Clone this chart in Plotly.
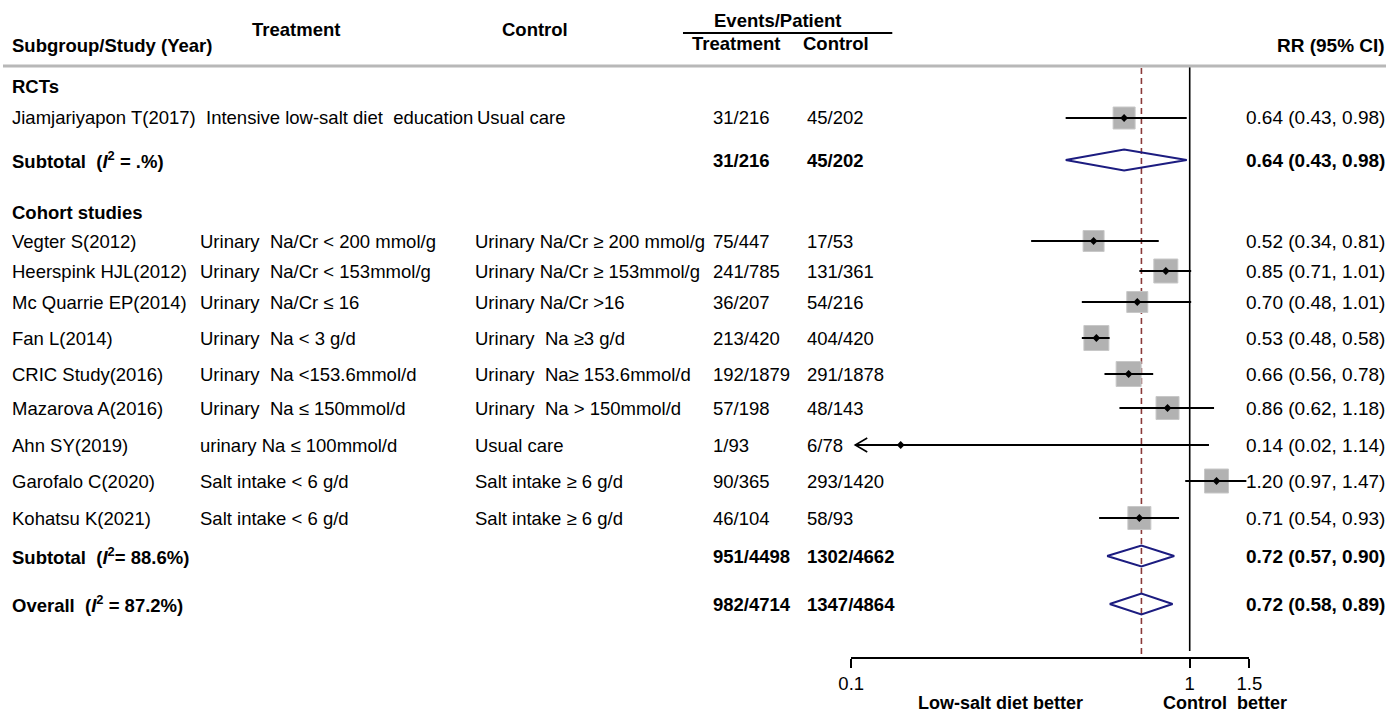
import plotly.graph_objects as go
import math

# ---- data -------------------------------------------------------------
studies = ["Jiamjariyapon T(2017)", "Vegter S(2012)", "Heerspink HJL(2012)",
           "Mc Quarrie EP(2014)", "Fan L(2014)", "CRIC Study(2016)",
           "Mazarova A(2016)", "Ahn SY(2019)", "Garofalo C(2020)", "Kohatsu K(2021)"]
treat_desc = ["Intensive low-salt diet  education", "Urinary  Na/Cr < 200 mmol/g",
              "Urinary  Na/Cr < 153mmol/g", "Urinary  Na/Cr \u2264 16", "Urinary  Na < 3 g/d",
              "Urinary  Na <153.6mmol/d", "Urinary  Na \u2264 150mmol/d",
              "urinary Na \u2264 100mmol/d", "Salt intake < 6 g/d", "Salt intake < 6 g/d"]
ctrl_desc = ["Usual care", "Urinary Na/Cr \u2265 200 mmol/g", "Urinary Na/Cr \u2265 153mmol/g",
             "Urinary Na/Cr >16", "Urinary  Na \u22653 g/d", "Urinary  Na\u2265 153.6mmol/d",
             "Urinary  Na > 150mmol/d", "Usual care", "Salt intake \u2265 6 g/d",
             "Salt intake \u2265 6 g/d"]
treat_events = ["31/216", "75/447", "241/785", "36/207", "213/420", "192/1879",
                "57/198", "1/93", "90/365", "46/104"]
ctrl_events = ["45/202", "17/53", "131/361", "54/216", "404/420", "291/1878",
               "48/143", "6/78", "293/1420", "58/93"]
rr = [0.64, 0.52, 0.85, 0.70, 0.53, 0.66, 0.86, 0.14, 1.20, 0.71]
rr_lo = [0.43, 0.34, 0.71, 0.48, 0.48, 0.56, 0.62, 0.02, 0.97, 0.54]
rr_hi = [0.98, 0.81, 1.01, 1.01, 0.58, 0.78, 1.18, 1.14, 1.47, 0.93]

pooled_labels = ["Subtotal  (<i>I</i><sup>2</sup> = .%)", "Subtotal  (<i>I</i><sup>2</sup>= 88.6%)",
                 "Overall  (<i>I</i><sup>2</sup> = 87.2%)"]
pooled_treat = ["31/216", "951/4498", "982/4714"]
pooled_ctrl = ["45/202", "1302/4662", "1347/4864"]
pooled_rr = [0.64, 0.72, 0.72]
pooled_lo = [0.43, 0.57, 0.58]
pooled_hi = [0.98, 0.90, 0.89]

tick_vals = [0.1, 1, 1.5]
tick_text = ["0.1", "1", "1.5"]

# ---- layout (pixel rows / columns) -------------------------------------
W, H = 1386, 714
# horizontal placement of the drawing area on the page
X_OFF, X_SPAN = 14, 1358
study_rows = [118, 241, 271, 302, 338, 374, 408, 445, 481, 518]
pooled_rows = [160, 556, 604]
study_box = [22, 21, 24, 21, 25, 25, 23, 0, 24, 23]
AX_LEFT, AX_RIGHT, AX_Y, TOP_Y = 851, 1248.5, 657, 66
FONT = "Liberation Sans, Arial, sans-serif"
FS = 18.5
FS_RR = 19

col_study, col_treat, col_ctrl, col_te, col_ce, col_rr_end = 12, 200, 474, 712, 806, 1385

def px(x):
    return (x - X_OFF) / X_SPAN

def py(y):
    return 1 - y / H

fig = go.Figure()
annotations = []

def text(x, y, s, bold=False, size=FS, anchor="left"):
    annotations.append(dict(
        x=px(x), y=py(y), xref="paper", yref="paper", showarrow=False,
        text=f"<b>{s}</b>" if bold else s, xanchor=anchor, yanchor="middle",
        borderpad=0, font=dict(family=FONT, size=size, color="black")))

def fmt_rr(r, lo, hi):
    return f"{r:.2f} ({lo:.2f}, {hi:.2f})"

# header
text(col_study, 45, "Subgroup/Study (Year)", bold=True)
text(297, 30, "Treatment", bold=True, anchor="center")
text(535, 30, "Control", bold=True, anchor="center")
text(778, 20, "Events/Patient", bold=True, anchor="center")
text(691, 43, "Treatment", bold=True)
text(802, 43, "Control", bold=True)
text(col_rr_end, 45, "RR (95% CI)", bold=True, size=FS_RR, anchor="right")
text(col_study, 86, "RCTs", bold=True)
text(col_study, 212, "Cohort studies", bold=True)

# study rows
for i, s in enumerate(studies):
    y = study_rows[i]
    text(col_study, y, s)
    text(col_treat + (6 if i == 0 else 0), y, treat_desc[i])
    text(col_ctrl + (2 if i == 0 else 0), y, ctrl_desc[i])
    text(col_te, y, treat_events[i])
    text(col_ce, y, ctrl_events[i])
    text(col_rr_end, y, fmt_rr(rr[i], rr_lo[i], rr_hi[i]), size=FS_RR, anchor="right")

# pooled rows
for i, lab in enumerate(pooled_labels):
    y = pooled_rows[i]
    text(col_study, y, lab, bold=True)
    text(col_te, y, pooled_treat[i], bold=True)
    text(col_ce, y, pooled_ctrl[i], bold=True)
    text(col_rr_end, y, fmt_rr(pooled_rr[i], pooled_lo[i], pooled_hi[i]), bold=True,
         size=FS_RR, anchor="right")

# axis captions
text(1000, 703, "Low-salt diet better", bold=True, size=18, anchor="center")
text(1224, 703, "Control  better", bold=True, size=18, anchor="center")

# ---- marks on the log RR axis --------------------------------------------
x_min = tick_vals[0]
dec_per_px = (math.log10(tick_vals[-1]) - math.log10(x_min)) / (AX_RIGHT - AX_LEFT)

def shift(x, dpx):
    return x * 10 ** (dpx * dec_per_px)

# reference lines: no effect (1) and the overall pooled estimate
fig.add_trace(go.Scatter(x=[1, 1], y=[TOP_Y, AX_Y - 6], mode="lines",
                         line=dict(color="black", width=1.6), hoverinfo="skip"))
fig.add_trace(go.Scatter(x=[pooled_rr[-1]] * 2, y=[TOP_Y + 2, AX_Y], mode="lines",
                         line=dict(color="#8b3a3a", width=1.6, dash="6px,4px"),
                         hoverinfo="skip"))

for i in range(len(studies)):
    y = study_rows[i]
    lo = rr_lo[i]
    if lo < x_min:
        # interval runs past the axis: draw an open arrow head at the edge
        lo = shift(x_min, 4)
        fig.add_trace(go.Scatter(
            x=[shift(lo, 12), lo, shift(lo, 12)], y=[y - 7, y, y + 7], mode="lines",
            line=dict(color="black", width=1.6), hoverinfo="skip"))
    if study_box[i] > 0:
        fig.add_trace(go.Scatter(
            x=[rr[i]], y=[y], mode="markers",
            marker=dict(symbol="square", size=study_box[i], color="#b2b2b2",
                        line=dict(color="#c8c8c8", width=1)),
            hoverinfo="skip"))
    fig.add_trace(go.Scatter(x=[lo, rr_hi[i]], y=[y, y], mode="lines",
                             line=dict(color="black", width=2), hoverinfo="skip"))
    fig.add_trace(go.Scatter(x=[rr[i]], y=[y], mode="markers",
                             marker=dict(symbol="diamond", size=6, color="black"),
                             hoverinfo="skip"))

for i in range(len(pooled_rr)):
    y = pooled_rows[i]
    h = 10.5
    fig.add_trace(go.Scatter(
        x=[pooled_lo[i], pooled_rr[i], pooled_hi[i], pooled_rr[i], pooled_lo[i]],
        y=[y, y - h, y, y + h, y], mode="lines",
        line=dict(color="#1c1c80", width=2), hoverinfo="skip"))

# header rules
shapes = [
    dict(type="line", xref="paper", yref="paper", x0=px(4), x1=px(W), y0=py(66), y1=py(66),
         line=dict(color="#b8b8b8", width=3)),
    dict(type="line", xref="paper", yref="paper", x0=px(683), x1=px(892), y0=py(33), y1=py(33),
         line=dict(color="black", width=2)),
]

fig.update_layout(
    width=W, height=H, autosize=False,
    margin=dict(l=0, r=0, t=0, b=0, pad=0),
    paper_bgcolor="white", plot_bgcolor="white",
    showlegend=False,
    annotations=annotations, shapes=shapes,
    xaxis=dict(type="log", domain=[px(AX_LEFT), px(AX_RIGHT)],
               range=[math.log10(tick_vals[0]), math.log10(tick_vals[-1])],
               tickvals=tick_vals, ticktext=tick_text, ticks="outside", ticklen=9,
               tickwidth=1.5, tickcolor="black", showline=True, linecolor="black",
               linewidth=1.5, showgrid=False, zeroline=False,
               tickfont=dict(family=FONT, size=FS, color="black")),
    yaxis=dict(domain=[1 - AX_Y / H, 1 - TOP_Y / H], range=[AX_Y, TOP_Y],
               visible=False, showgrid=False, zeroline=False),
)

fig.write_html("out.html")
